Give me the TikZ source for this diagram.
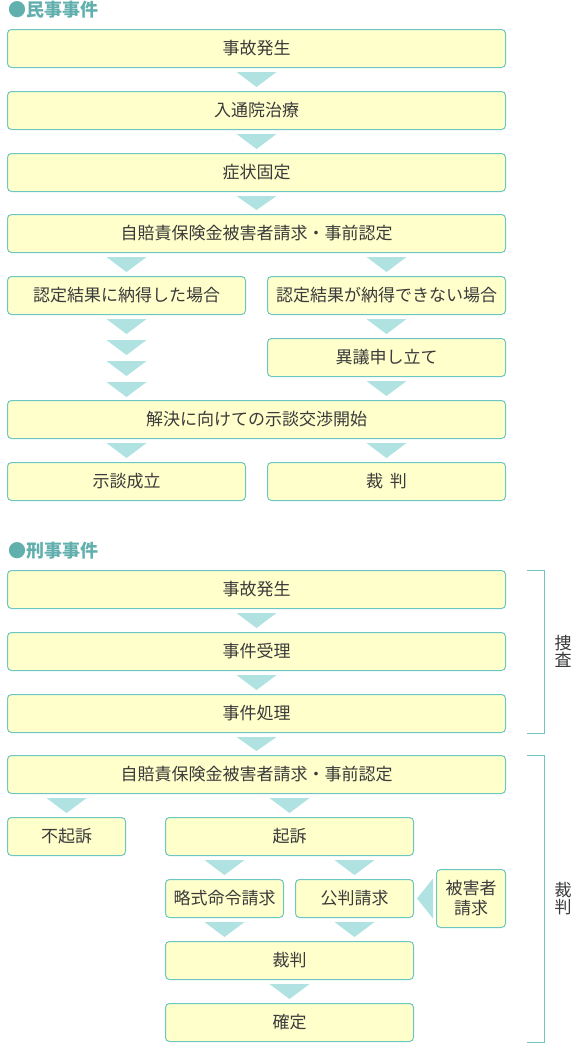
\documentclass[tikz,border=0pt]{standalone}
\usepackage{fontspec}
\newfontfamily\jpfont{Noto Sans CJK JP}
\usepackage{tikz}
\usetikzlibrary{calc}

\definecolor{boxline}{HTML}{6CC6C2}
\definecolor{boxfill}{HTML}{FFFFCC}
\definecolor{trifill}{HTML}{B0E2E2}
\definecolor{headteal}{HTML}{62B0AE}
\definecolor{textgray}{HTML}{3A3A3A}

\tikzset{
  stepbox/.style={draw=boxline, fill=boxfill, line width=1pt, rounded corners=4pt,
    minimum height=38pt, inner sep=0pt, text=textgray,
    font=\jpfont\fontsize{17}{20}\selectfont},
  header/.style={anchor=west, inner sep=0pt, text=headteal,
    font=\jpfont\bfseries\fontsize{18}{18}\selectfont},
  sidelabel/.style={align=center, inner sep=0pt, text=textgray,
    font=\jpfont\fontsize{17}{17}\selectfont},
  bracket/.style={draw=boxline, line width=1pt},
  tri/.style={fill=trifill}
}

% triangle between two boxes: #1 top point, #2 point it aims at
\newcommand{\downtri}[2]{%
  \fill[tri] ($(#1)+(-20,4)$) -- ($(#1)+(20,4)$) -- ($(#2)+(0,-4)$) -- cycle;}

\begin{document}
\begin{tikzpicture}[x=1pt, y=-1pt]
    \useasboundingbox (0,0) rectangle (580,1044);

    % Civil case
    \node[header] (civil) at (8,10) {●民事事件};
    \node[stepbox, minimum width=498pt] (c1) at (256.5,48.5) {事故発生};
    \node[stepbox, minimum width=498pt] (c2) at (256.5,110.5) {入通院治療};
    \node[stepbox, minimum width=498pt] (c3) at (256.5,172.5) {症状固定};
    \node[stepbox, minimum width=498pt] (c4) at (256.5,233.5) {自賠責保険金被害者請求・事前認定};
    \node[stepbox, minimum width=238pt] (c5l) at (126.5,295.5) {認定結果に納得した場合};
    \node[stepbox, minimum width=238pt] (c5r) at (386.5,295.5) {認定結果が納得できない場合};
    \node[stepbox, minimum width=238pt] (c6r) at (386.5,357.5) {異議申し立て};
    \node[stepbox, minimum width=498pt] (c7) at (256.5,419.5) {解決に向けての示談交渉開始};
    \node[stepbox, minimum width=238pt] (c8l) at (126.5,481.5) {示談成立};
    \node[stepbox, minimum width=238pt] (c8r) at (386.5,481.5) {裁\hspace{0.4em}判};

    \downtri{c1.south}{c2.north}
    \downtri{c2.south}{c3.north}
    \downtri{c3.south}{c4.north}
    \downtri{c4.south -| c5l.north}{c5l.north}
    \downtri{c4.south -| c5r.north}{c5r.north}
    \downtri{c5r.south}{c6r.north}
    \foreach \k in {0,...,3}
        \fill[tri] ($(c5l.south)+(-20,4+21*\k)$) -- ($(c5l.south)+(20,4+21*\k)$)
            -- ($(c5l.south)+(0,19+21*\k)$) -- cycle;
    \downtri{c6r.south}{c6r.south |- c7.north}
    \downtri{c7.south -| c8l.north}{c8l.north}
    \downtri{c7.south -| c8r.north}{c8r.north}

    % Criminal case
    \node[header] (crim) at (8,551) {●刑事事件};
    \node[stepbox, minimum width=498pt] (k1) at (256.5,589.5) {事故発生};
    \node[stepbox, minimum width=498pt] (k2) at (256.5,651.5) {事件受理};
    \node[stepbox, minimum width=498pt] (k3) at (256.5,713.5) {事件処理};
    \node[stepbox, minimum width=498pt] (k4) at (256.5,774.5) {自賠責保険金被害者請求・事前認定};
    \node[stepbox, minimum width=118pt] (k5l) at (66.5,836.5) {不起訴};
    \node[stepbox, minimum width=248pt] (k5r) at (289.5,836.5) {起訴};
    \node[stepbox, minimum width=118pt] (k6l) at (224.5,898.5) {略式命令請求};
    \node[stepbox, minimum width=118pt] (k6r) at (354.5,898.5) {公判請求};
    \node[stepbox, minimum width=69pt, minimum height=58pt, align=center]
        (victim) at (471,898.5) {被害者\\請求};
    \node[stepbox, minimum width=248pt] (k7) at (289.5,960.5) {裁判};
    \node[stepbox, minimum width=248pt] (k8) at (289.5,1022.5) {確定};

    \downtri{k1.south}{k2.north}
    \downtri{k2.south}{k3.north}
    \downtri{k3.south}{k4.north}
    \downtri{k4.south -| k5l.north}{k5l.north}
    \downtri{k4.south -| k5r.north}{k5r.north}
    \downtri{k5r.south -| k6l.north}{k6l.north}
    \downtri{k5r.south -| k6r.north}{k6r.north}
    \downtri{k6l.south}{k6l.south |- k7.north}
    \downtri{k6r.south}{k6r.south |- k7.north}
    \downtri{k7.south}{k8.north}
    \fill[tri] ($(victim.west |- k6r.east)+(-3,-20)$) -- ($(victim.west |- k6r.east)+(-3,20)$)
        -- ($(k6r.east)+(3,0)$) -- cycle;

    % brackets at the side
    \coordinate (probeend) at (k3.south east);
    \draw[bracket] ($(k1.north east)+(21,0)$) -- ++(17,0)
        -- ($(probeend)+(38,0)$) -- ++(-17,0);
    \node[sidelabel] (probe) at ($(k1.north east)!0.5!(probeend)+(57,0)$) {捜\\査};
    \coordinate (trialend) at (k4.east |- k8.south);
    \draw[bracket] ($(k4.north east)+(21,0)$) -- ++(17,0)
        -- ($(trialend)+(38,0)$) -- ++(-17,0);
    \node[sidelabel] (trial) at ($(k4.north east)!0.5!(trialend)+(57,0)$) {裁\\判};
\end{tikzpicture}
\end{document}
